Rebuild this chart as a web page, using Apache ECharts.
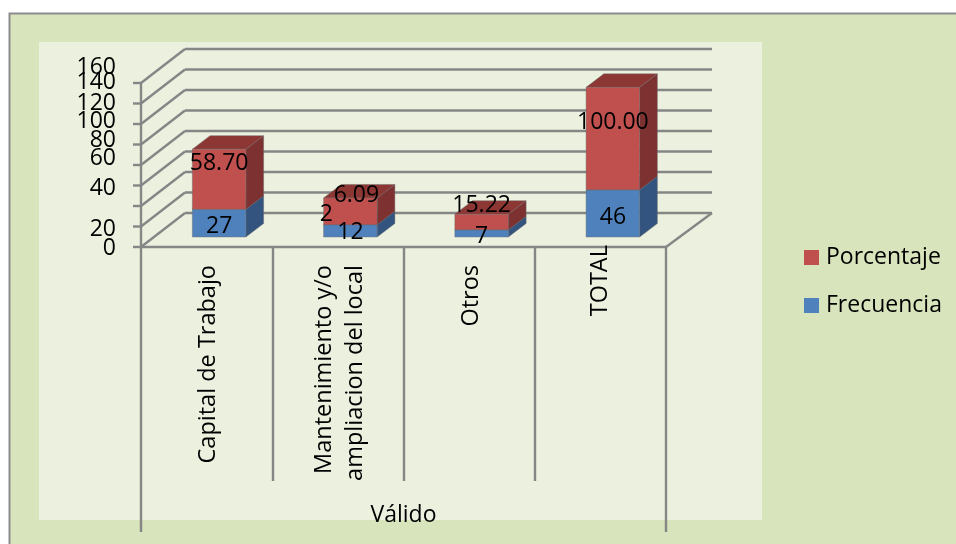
<!DOCTYPE html>
<html>
<head>
<meta charset="utf-8">
<style>html,body{margin:0;padding:0;background:#fff}#c{width:956px;height:544px}</style>
<script src="https://cdn.jsdelivr.net/npm/echarts@6/dist/echarts.min.js"></script>
</head>
<body>
<div id="c"></div>
<script>
var categories = ['Capital de Trabajo', 'Mantenimiento y/o\nampliacion del local', 'Otros', 'TOTAL'];
var frecuencia = [27, 12, 7, 46];
var porcentaje = [58.70, 26.09, 15.22, 100.00];
var frecuenciaLabels = ['27', '12', '7', '46'];
var porcentajeLabels = [['58.70'], ['2', '6.09'], ['15.22'], ['100.00']];
var yTicks = [0, 20, 40, 60, 80, 100, 120, 140, 160];

// drawing configuration
var DEPTH = [44, -34], BAR_DEPTH = [17.7, -13.5], BAR_SHIFT = [12.5, -10], BAR_FRACTION = 0.408;
var GRID = '#868686';
var BLUE = {front: '#4f81bd', side: '#33547e', top: '#3f6797'};
var RED = {front: '#c0504d', side: '#7d3130', top: '#8d3735'};
var porcentajeNudge = [[[0, -18]], [[-24, 1], [6, -18]], [[0, -19]], [[0, -18]]];
var frecuenciaNudge = [[0, 1], [0, 0], [0, 1], [0, 2]];
var tickLift = {160: 18, 140: 23, 120: 23, 100: 25, 80: 27, 60: 29, 40: 20, 20: -1, 0: 1};
var FONT = '"Open Sans"', NUM_SIZE = 23, CAT_SIZE = 23.5, LINE_W = 2.4, TEXT_DROP = 2, TICK_LEN = 8;

function poly(points, fill) {
  return {type: 'polygon', shape: {points: points},
    style: {fill: fill, stroke: 'rgba(105,105,105,0.55)', lineWidth: 0.8}};
}
function block(color, baseOf, valueOf) {
  return function (params, api) {
    var i = params.dataIndex;
    var band = api.size([1, 0])[0], w = band * BAR_FRACTION;
    var bot = api.coord([i, baseOf(i)]), topP = api.coord([i, baseOf(i) + valueOf(i)]);
    var xl = bot[0] + BAR_SHIFT[0] - w / 2, xr = xl + w;
    var yb = bot[1] + BAR_SHIFT[1], yt = topP[1] + BAR_SHIFT[1];
    var dx = BAR_DEPTH[0], dy = BAR_DEPTH[1];
    return {type: 'group', children: [
      poly([[xr, yb], [xr + dx, yb + dy], [xr + dx, yt + dy], [xr, yt]], color.side),
      poly([[xl, yt], [xr, yt], [xr + dx, yt + dy], [xl + dx, yt + dy]], color.top),
      poly([[xl, yb], [xr, yb], [xr, yt], [xl, yt]], color.front)
    ]};
  };
}
function seg(x1, y1, x2, y2) {
  return {type: 'line', shape: {x1: x1, y1: y1, x2: x2, y2: y2},
    style: {stroke: GRID, lineWidth: LINE_W}};
}
function label(text, x, y, align) {
  return {type: 'text', x: x, y: y + TEXT_DROP, style: {text: text, fill: '#000', font: NUM_SIZE + 'px ' + FONT,
    align: align || 'center', verticalAlign: 'middle'}};
}

var chart = echarts.init(document.getElementById('c'), null, {renderer: 'canvas'});
chart.setOption({
  animation: false,
  backgroundColor: '#fff',
  graphic: [
    {type: 'rect', z: -10, shape: {x: 9.5, y: 13.5, width: 1000, height: 600},
      style: {fill: '#d8e4bc', stroke: '#8c8c8c', lineWidth: 2}},
    {type: 'rect', z: -9, shape: {x: 39, y: 42, width: 723, height: 478}, style: {fill: '#ebf1de'}}
  ],
  grid: {left: 141, width: 525, top: 83, height: 164},
  legend: {
    data: ['Porcentaje', 'Frecuencia'], orient: 'vertical', left: 804, top: 246, padding: 0,
    itemWidth: 15, itemHeight: 15, itemGap: 25, icon: 'rect',
    textStyle: {fontFamily: FONT, fontSize: 23, lineHeight: 23, color: '#000', padding: [0, 0, 0, 2]}
  },
  xAxis: {
    type: 'category', data: categories,
    axisLine: {lineStyle: {color: GRID, width: LINE_W}},
    axisTick: {show: true, length: 234, lineStyle: {color: GRID, width: LINE_W}},
    axisLabel: {
      rotate: 90, interval: 0, margin: -2, lineHeight: 35, color: '#000',
      fontFamily: FONT, fontSize: CAT_SIZE,
      formatter: function (v) {
        if (v === 'TOTAL') return v;
        return v.split('\n').map(function (s) { return '{p|' + s + '}'; }).join('\n');
      },
      rich: {p: {fontFamily: FONT, fontSize: CAT_SIZE, color: '#000', lineHeight: 31, padding: [4, 20, 0, 0]}}
    },
    name: 'Válido', nameLocation: 'middle', nameGap: 257,
    nameTextStyle: {fontFamily: FONT, fontSize: 23, color: '#000'}
  },
  yAxis: {
    type: 'value', min: 0, max: 160, interval: 20,
    splitLine: {show: false},
    axisLine: {show: true, lineStyle: {color: GRID, width: LINE_W}},
    axisTick: {show: false},
    axisLabel: {show: false}
  },
  series: [
    {
      name: 'walls', type: 'custom', coordinateSystem: 'cartesian2d', z: 1, silent: true, clip: false,
      data: yTicks.map(function (v) { return [0, v]; }),
      renderItem: function (params, api) {
        var band = api.size([1, 0])[0];
        var v = api.value(1);
        var p = api.coord([0, v]);
        var xl = p[0] - band / 2, xr = xl + band * categories.length, y = p[1];
        var kids = [
          seg(xl + DEPTH[0], y + DEPTH[1], xr + DEPTH[0] + 2, y + DEPTH[1]),
          seg(xl, y, xl + DEPTH[0], y + DEPTH[1]),
          seg(xl - TICK_LEN, y, xl, y),
          label(String(v), xl - 25, y - tickLift[v], 'right')
        ];
        if (params.dataIndex === 0) {
          kids.push(seg(xr, y, xr + DEPTH[0] + 2, y + DEPTH[1]));
          kids.push(seg(xl, y + 234, xl, y + 285));
          kids.push(seg(xr, y + 234, xr, y + 285));
        }
        return {type: 'group', children: kids};
      }
    },
    {
      name: 'Frecuencia', type: 'custom', coordinateSystem: 'cartesian2d', z: 3, clip: false,
      itemStyle: {color: BLUE.front},
      data: frecuencia.map(function (v, i) { return [i, v]; }),
      renderItem: block(BLUE, function () { return 0; }, function (i) { return frecuencia[i]; })
    },
    {
      name: 'Porcentaje', type: 'custom', coordinateSystem: 'cartesian2d', z: 3, clip: false,
      itemStyle: {color: RED.front},
      data: porcentaje.map(function (v, i) { return [i, v]; }),
      renderItem: block(RED, function (i) { return frecuencia[i]; }, function (i) { return porcentaje[i]; })
    },
    {
      name: 'labels', type: 'custom', coordinateSystem: 'cartesian2d', z: 6, silent: true, clip: false,
      data: categories.map(function (c, i) { return [i, frecuencia[i]]; }),
      renderItem: function (params, api) {
        var i = params.dataIndex, kids = [];
        var p1 = api.coord([i, frecuencia[i] / 2]), p2 = api.coord([i, frecuencia[i] + porcentaje[i] / 2]);
        var cx = p1[0] + BAR_SHIFT[0];
        kids.push(label(frecuenciaLabels[i], cx + frecuenciaNudge[i][0], p1[1] + BAR_SHIFT[1] + frecuenciaNudge[i][1]));
        porcentajeLabels[i].forEach(function (t, k) {
          kids.push(label(t, cx + porcentajeNudge[i][k][0], p2[1] + BAR_SHIFT[1] + porcentajeNudge[i][k][1]));
        });
        return {type: 'group', children: kids};
      }
    }
  ]
});
</script>
</body>
</html>
